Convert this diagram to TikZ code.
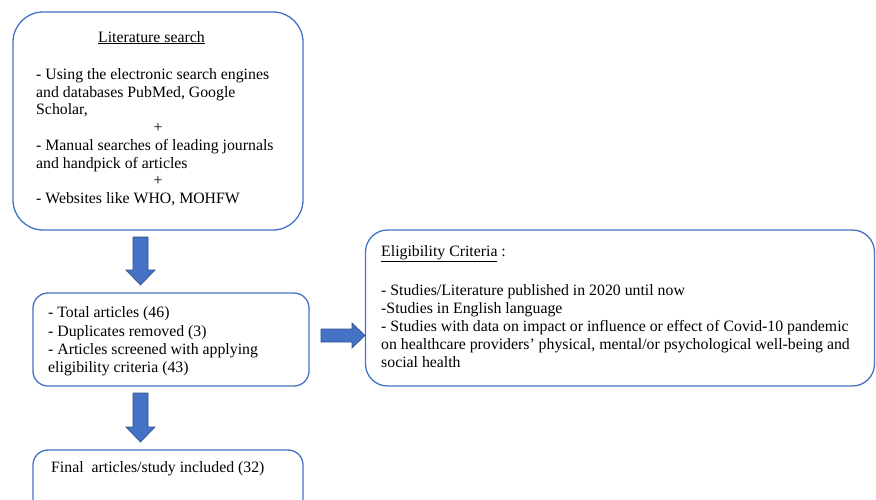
\documentclass[tikz,border=0pt]{standalone}
\usepackage{fontspec}
\setmainfont{Liberation Serif}
\definecolor{boxblue}{HTML}{4472C4}
\definecolor{arrowline}{HTML}{2F528F}
\begin{document}
\begin{tikzpicture}[x=1pt,y=-1pt,
  box/.style={draw=boxblue, line width=1.3pt, fill=white, inner sep=0pt},
  txt/.style={anchor=base west, inner sep=0pt, font=\fontsize{15.8}{18}\selectfont},
  ctxt/.style={anchor=base, inner sep=0pt, font=\fontsize{15.8}{18}\selectfont},
  barrow/.style={fill=boxblue, draw=arrowline, line width=0.7pt, line join=miter}]
\path[use as bounding box] (0,0) rectangle (876,499);
\clip (0,0) rectangle (876,499);
% boxes
\node[box, rounded corners=30pt, minimum width=290pt, minimum height=218pt] (lit) at (158,121) {};
\node[box, rounded corners=15pt, minimum width=276pt, minimum height=93pt] (tot) at (171,339.5) {};
\node[box, rounded corners=15pt, minimum width=270pt, minimum height=100pt] (fin) at (168,500) {};
\node[box, rounded corners=22pt, minimum width=509pt, minimum height=156pt] (elig) at (620,308) {};
% texts box 1
\node[txt] (l0) at (98,42) {\underline{Literature search}};
\node[txt] (l1) at (36,79) {- Using the electronic search engines};
\node[txt] (l2) at (36,97) {and databases PubMed, Google};
\node[txt] (l3) at (36,114) {Scholar,};
\node[ctxt] (l4) at (158,132) {+};
\node[txt] (l5) at (36,150) {- Manual searches of leading journals};
\node[txt] (l6) at (36,168) {and handpick of articles};
\node[ctxt] (l7) at (158,185) {+};
\node[txt] (l8) at (36,203) {- Websites like WHO, MOHFW};
% texts box 2
\node[txt] (t1) at (48,317) {- Total articles (46)};
\node[txt] (t2) at (48,336) {- Duplicates removed (3)};
\node[txt] (t3) at (48,354) {- Articles screened with applying};
\node[txt] (t4) at (48,372) {eligibility criteria (43)};
% final
\node[txt] (f1) at (51,472) {Final\ \ articles/study included (32)};
% eligibility
\node[txt] (e0) at (381,256) {\underline{Eligibility Criteria} :};
\node[txt] (e1) at (381,295) {- Studies/Literature published in 2020 until now};
\node[txt] (e2) at (381,313) {-Studies in English language};
\node[txt] (e3) at (381,331) {- Studies with data on impact or influence or effect of Covid-10 pandemic};
\node[txt] (e4) at (381,349) {on healthcare providers’ physical, mental/or psychological well-being and};
\node[txt] (e5) at (381,367) {social health};
% block arrows
\draw[barrow] (133,237) -- (148,237) -- (148,270) -- (155,270) -- (140.5,285) -- (126,270) -- (133,270) -- cycle;
\draw[barrow] (133,393) -- (148,393) -- (148,427) -- (155,427) -- (140.5,442) -- (126,427) -- (133,427) -- cycle;
\draw[barrow] (321,329) -- (352,329) -- (352,323) -- (365,335.5) -- (352,348) -- (352,342) -- (321,342) -- cycle;
\end{tikzpicture}
\end{document}
